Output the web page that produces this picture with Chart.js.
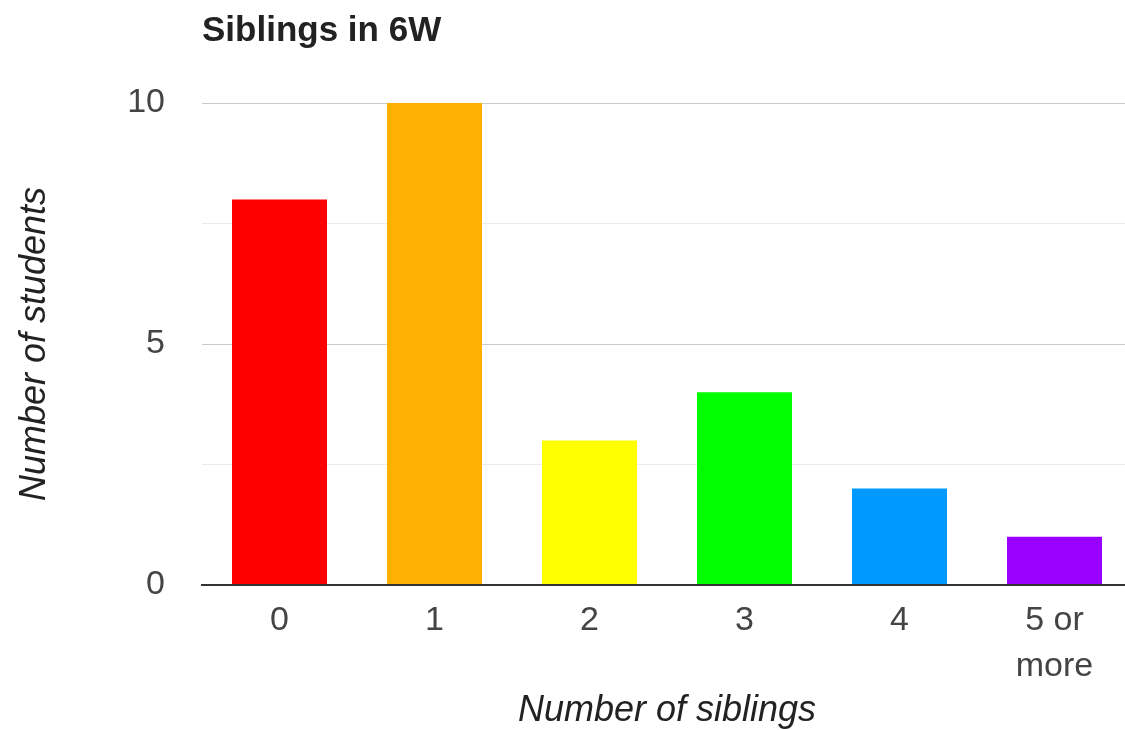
<!DOCTYPE html>
<html>
<head>
<meta charset="utf-8">
<script src="https://cdn.jsdelivr.net/npm/chart.js@4/dist/chart.umd.min.js"></script>
<style>
  html, body { margin: 0; padding: 0; background: #fff; overflow: hidden; }
  #wrap { width: 1125px; height: 730px; overflow: hidden; }
</style>
</head>
<body>
<div id="wrap"><canvas id="chart" width="1134" height="730"></canvas></div>
<script>
const categories = ['0', '1', '2', '3', '4', ['5 or', 'more']];
const students = [8, 10, 3, 4, 2, 1];
const barColors = ['#ff0000', '#ffb000', '#ffff00', '#00ff00', '#0099ff', '#9900ff'];
const yTicks = [0, 5, 10];

const ctx = document.getElementById('chart').getContext('2d');
const chart = new Chart(ctx, {
  type: 'bar',
  data: {
    labels: categories,
    datasets: [{
      label: 'Number of students',
      data: students,
      backgroundColor: barColors,
      borderWidth: 0,
      categoryPercentage: 1,
      barPercentage: 0.613
    }]
  },
  options: {
    responsive: false,
    animation: false,
    layout: { padding: { left: 0, right: 2, top: 0, bottom: 0 } },
    plugins: {
      legend: { display: false },
      tooltip: { enabled: false },
      title: {
        display: true,
        text: 'Siblings in 6W',
        align: 'start',
        fullSize: false,
        color: '#222',
        font: { family: 'Liberation Sans, Arial, sans-serif', size: 35, weight: 'bold' },
        padding: { top: 10, bottom: 51 }
      }
    },
    scales: {
      x: {
        grid: { display: false },
        border: { color: '#333', width: 2 },
        ticks: {
          color: '#444',
          padding: 4,
          maxRotation: 0,
          font: { family: 'Liberation Sans, Arial, sans-serif', size: 34, lineHeight: 1.37 }
        },
        title: {
          display: true,
          text: 'Number of siblings',
          color: '#222',
          font: { family: 'Liberation Sans, Arial, sans-serif', size: 36, style: 'italic' },
          padding: { top: 0, bottom: -3 }
        },
        afterFit: scale => { scale.height = 145; }
      },
      y: {
        min: 0,
        max: 10,
        border: { display: false },
        grid: {
          drawTicks: false,
          lineWidth: ctx => ctx.tick && ctx.tick.value === 0 ? 2 : 1,
          color: ctx => {
            const v = ctx.tick ? ctx.tick.value : 0;
            if (v === 0) return '#333';
            return yTicks.includes(v) ? '#cccccc' : '#ebebeb';
          }
        },
        ticks: {
          stepSize: 2.5,
          color: '#444',
          padding: 37,
          font: { family: 'Liberation Sans, Arial, sans-serif', size: 34 },
          callback: value => yTicks.includes(value) ? value : ''
        },
        title: {
          display: true,
          text: 'Number of students',
          color: '#222',
          font: { family: 'Liberation Sans, Arial, sans-serif', size: 36, style: 'italic' },
          padding: { top: 13, bottom: 0 }
        },
        afterFit: scale => { scale.width = 202; }
      }
    }
  }
});
</script>
</body>
</html>
